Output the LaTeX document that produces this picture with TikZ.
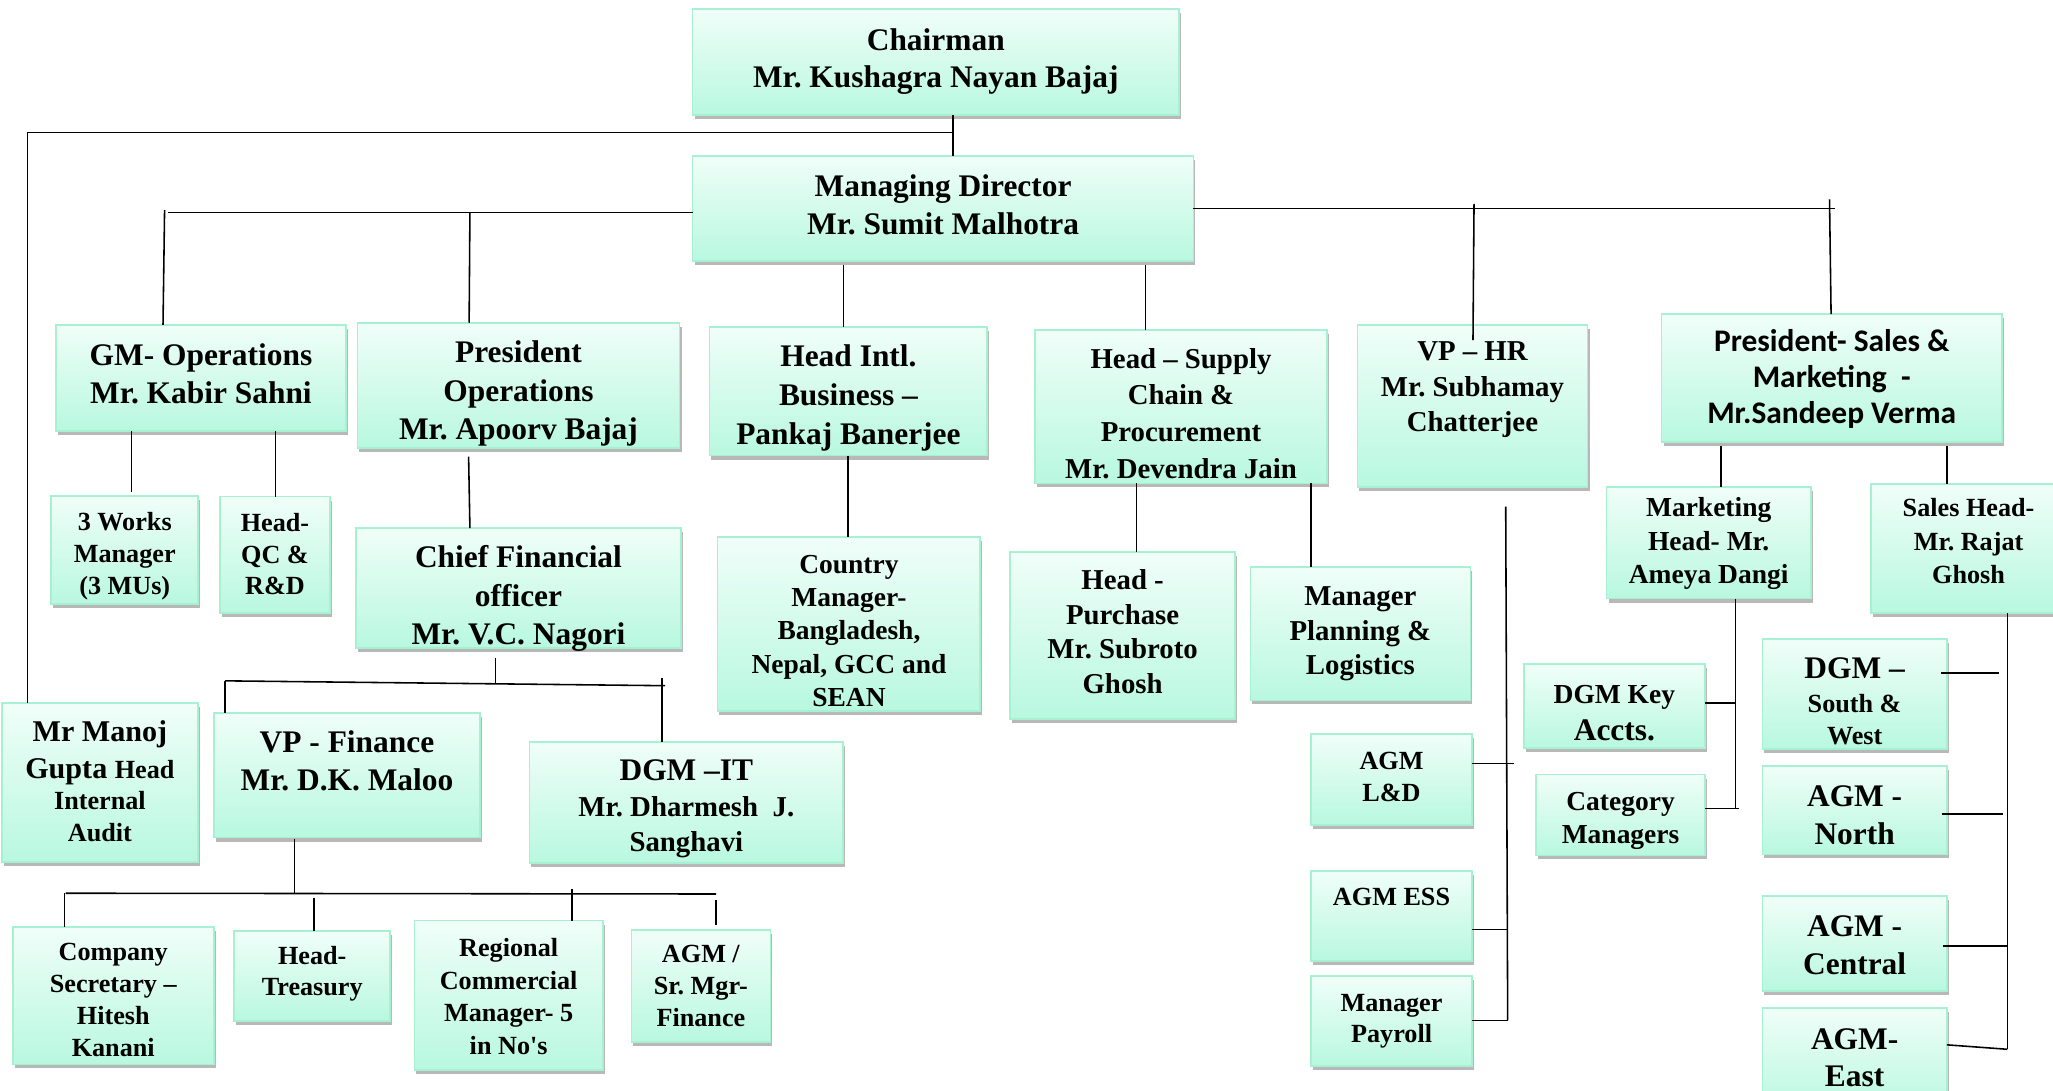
\documentclass[tikz,border=0pt]{standalone}
\usepackage{fontspec}
\setmainfont[Ligatures={TeX,NoCommon}]{Liberation Serif}
\newfontfamily\calfont{Carlito}
\usetikzlibrary{shadows}
\definecolor{boxtop}{HTML}{F0FEF9}
\definecolor{boxbot}{HTML}{B8F8E0}
\definecolor{boxline}{HTML}{A8F0D2}
\newcommand\fs[2]{\fontsize{#1}{#2}\selectfont}
\tikzset{
  orgbox/.style={draw=boxline, line width=1.3pt, top color=boxtop, bottom color=boxbot,
    inner sep=0pt, outer sep=0pt,
    drop shadow={shadow xshift=1.5pt, shadow yshift=-3pt, fill=black, opacity=0.28}},
  orgtext/.style={align=flush center, inner sep=0pt},
  conn/.style={line width=1.2pt, black}
}
% box: name, x1, y1, x2, y2
\newcommand\OB[5]{\node[orgbox, anchor=north west, minimum width={#4pt-#2pt}, minimum height={#5pt-#3pt}] (#1) at (#2,#3) {};}
% text: name, cx, first baseline, width, font, content
\newcommand\OT[6]{\node[orgtext, text width={#4pt}, anchor=base, font={\bfseries\frenchspacing#5}] (#1-t) at (#2,#3) {#6};}
\begin{document}
\begin{tikzpicture}[x=1pt, y=-1pt]
\fill[white] (0,0) rectangle (1568,832.5);
\useasboundingbox (0,0) rectangle (1568,832.5);

% ---------- boxes ----------
\OB{chair}{529}{7}{900.5}{88}
\OB{md}{529}{119}{911.5}{199.3}
\OB{gmops}{42.7}{248.2}{264.2}{329}
\OB{presops}{273}{246.5}{519}{342.4}
\OB{intl}{541.8}{250}{754}{348}
\OB{supply}{790.6}{252}{1013.5}{369.2}
\OB{vphr}{1036.7}{248.2}{1212.5}{371.7}
\OB{pressales}{1269}{240}{1529}{337.8}
\OB{works}{39.2}{378.6}{151.3}{461.3}
\OB{qc}{168}{379.3}{252}{468.4}
\OB{cfo}{271.8}{403.4}{520.2}{494.8}
\OB{country}{548}{410}{748.7}{542.8}
\OB{purchase}{771.5}{421.5}{943.3}{549.2}
\OB{planning}{955}{433}{1123}{535}
\OB{mkthead}{1227}{371.7}{1383}{457.2}
\OB{saleshead}{1429}{369.9}{1578}{468.1}
\OB{manoj}{1.5}{537.1}{151}{658.3}
\OB{vpfin}{163.2}{544.3}{366.8}{639.7}
\OB{dgmit}{404.3}{566.6}{644}{659.2}
\OB{dgmkey}{1163.8}{506.9}{1302.4}{571.5}
\OB{category}{1173}{591.6}{1302.4}{653.4}
\OB{south}{1346}{488.2}{1487}{572}
\OB{north}{1346}{585}{1487}{652.6}
\OB{agmld}{1001.3}{560.6}{1124.3}{630}
\OB{agmess}{1001.3}{665}{1124.3}{734}
\OB{payroll}{1001.3}{745.5}{1124.3}{814.3}
\OB{central}{1346}{684.5}{1487}{756.9}
\OB{east}{1346}{769.8}{1487}{850}
\OB{compsec}{9.8}{708}{163.2}{812.9}
\OB{treasury}{178.8}{711}{298.1}{779.9}
\OB{regional}{316.6}{703.1}{460.3}{817.2}
\OB{agmsr}{482.2}{710.4}{588.4}{795.7}

% ---------- texts ----------
\OT{chair}{714.7}{38.7}{380}{\fs{24}{28.3}}{Chairman\\Mr. Kushagra Nayan Bajaj}
\OT{md}{720.3}{149.7}{380}{\fs{24}{29.3}}{Managing Director\\Mr. Sumit Malhotra}
\OT{gmops}{153.5}{278.8}{240}{\fs{24}{29.2}}{GM- Operations\\Mr. Kabir Sahni}
\OT{presops}{396}{277}{260}{\fs{24}{29.3}}{President\\Operations\\Mr. Apoorv Bajaj}
\OT{intl}{648}{280}{240}{\fs{24}{29.7}}{Head Intl.\\Business –\\Pankaj Banerjee}
\OT{supply}{902}{281.3}{240}{\fs{22}{28}}{Head – Supply\\Chain \&\\Procurement\\Mr. Devendra Jain}
\OT{vphr}{1124.6}{275.7}{190}{\fs{22}{27}}{VP – HR\\Mr. Subhamay\\Chatterjee}
\OT{pressales}{1399}{268.6}{260}{\calfont\fs{24}{27.3}}{President- Sales \&\\Marketing \ -\\Mr.Sandeep Verma}
\OT{works}{95.3}{405.3}{120}{\fs{20}{24.2}}{3 Works\\Manager\\(3 MUs)}
\OT{qc}{210}{406}{100}{\fs{20}{24.2}}{Head-\\QC \&\\R\&D}
\OT{cfo}{396}{433.6}{250}{\fs{24}{29.5}}{Chief Financial\\officer\\Mr. V.C. Nagori}
\OT{country}{648.4}{438}{200}{\fs{21}{25.4}}{Country\\Manager-\\Bangladesh,\\Nepal, GCC and\\SEAN}
\OT{purchase}{857.4}{450}{180}{\fs{22}{26.6}}{Head -\\Purchase\\Mr. Subroto\\Ghosh}
\OT{planning}{1039}{462.3}{170}{\fs{22}{26.6}}{Manager\\Planning \&\\Logistics}
\OT{mkthead}{1305}{394.6}{160}{\fs{21}{25.5}}{Marketing\\Head- Mr.\\Ameya Dangi}
\OT{saleshead}{1503.5}{394.6}{150}{\fs{20}{25.5}}{Sales Head-\\Mr. Rajat\\Ghosh}
\OT{manoj}{76.3}{566.5}{150}{\fs{20}{24}}{\fs{23}{24}Mr Manoj\\[4pt]Gupta \fs{20}{24}Head\\Internal\\Audit}
\OT{vpfin}{265}{575}{210}{\fs{24}{28.7}}{VP - Finance\\Mr. D.K. Maloo}
\OT{dgmit}{524.2}{596}{240}{\fs{22}{27.3}}{\fs{24}{27.3}DGM –IT\\\fs{22}{27.3}Mr. Dharmesh\ \ J.\\Sanghavi}
\OT{dgmkey}{1233}{537}{140}{\fs{24}{28.8}}{\fs{21}{28.8}DGM Key\\\fs{24}{28.8}Accts.}
\OT{category}{1237.7}{619}{130}{\fs{21}{25}}{Category\\Managers}
\OT{south}{1416.5}{518.4}{140}{\fs{20}{24.4}}{\fs{24}{24.4}DGM –\\[1.4pt]\fs{20}{24.4}South \&\\West}
\OT{north}{1416.5}{616}{140}{\fs{24}{28.8}}{AGM -\\North}
\OT{agmld}{1062.8}{588}{120}{\fs{20}{24.3}}{AGM\\L\&D}
\OT{agmess}{1062.8}{691.7}{120}{\fs{20}{24}}{AGM ESS}
\OT{payroll}{1062.8}{772.7}{120}{\fs{20}{23.5}}{Manager\\Payroll}
\OT{central}{1416.5}{715.2}{140}{\fs{24}{28.7}}{AGM -\\Central}
\OT{east}{1416.5}{801.4}{140}{\fs{24}{28.6}}{AGM-\\East}
\OT{compsec}{86.5}{733.9}{150}{\fs{20}{24.4}}{Company\\Secretary –\\Hitesh\\Kanani}
\OT{treasury}{238.5}{736.7}{120}{\fs{20}{23.9}}{Head-\\Treasury}
\OT{regional}{388.5}{730.5}{145}{\fs{20}{25}}{Regional\\Commercial\\Manager- 5\\in No\textquotesingle s}
\OT{agmsr}{535.3}{735.3}{110}{\fs{20}{24.4}}{AGM /\\Sr. Mgr-\\Finance}

% ---------- connectors ----------
\draw[conn] (727.7,0 |- chair.south) -- (727.7,0 |- md.north);
\draw[conn] (727.7,101.1) -- (21,101.1) -- (21,0 |- manoj.north);
\draw[conn] (md.west |- 0,162.4) -- (128.6,162.4);
\draw[conn] (125.7,160.4) -- (124.5,0 |- gmops.north);
\draw[conn] (358.9,162.4) -- (358.3,0 |- presops.north);
\draw[conn] (644.1,202.4) -- (644.1,0 |- intl.north);
\draw[conn] (875,202.4) -- (875,0 |- supply.north);
\draw[conn] (md.east |- 0,159.1) -- (1401.4,159.1);
\draw[conn] (1125.8,155.8) -- (1125,259.7);
\draw[conn] (1397.3,152.2) -- (1398.5,0 |- pressales.north);
\draw[conn] (100.5,0 |- gmops.south) -- (100.5,376);
\draw[conn] (210.4,0 |- gmops.south) -- (210.4,0 |- qc.north);
\draw[conn] (357.9,348.8) -- (358.9,0 |- cfo.north);
\draw[conn] (647.8,0 |- intl.south) -- (647.8,0 |- country.north);
\draw[conn] (867.9,0 |- supply.south) -- (867.9,0 |- purchase.north);
\draw[conn] (1001.3,0 |- supply.south) -- (1001.3,0 |- planning.north);
\draw[conn] (1150,387) -- (1151.5,779.3);
\draw[conn] (agmld.east |- 0,583) -- (1156,583);
\draw[conn] (agmess.east |- 0,710) -- (1151,710);
\draw[conn] (payroll.east |- 0,779.3) -- (1151.5,779.3);
\draw[conn] (1314.2,341) -- (1314.2,0 |- mkthead.north);
\draw[conn] (1487.1,341) -- (1487.1,0 |- saleshead.north);
\draw[conn] (1325.4,0 |- mkthead.south) -- (1325.4,617.5);
\draw[conn] (dgmkey.east |- 0,537.1) -- (1325.4,537.1);
\draw[conn] (category.east |- 0,617.5) -- (1328,617.5);
\draw[conn] (1533.2,0 |- saleshead.south) -- (1533.2,801.4);
\draw[conn] (1482.6,513.8) -- (1527,513.8);
\draw[conn] (1483,621.8) -- (1530,621.8);
\draw[conn] (1484,722.4) -- (1533.2,722.4);
\draw[conn] (east.east |- 0,798) -- (1533.2,801.4);
\draw[conn] (378.5,502.6) -- (378.5,521.8);
\draw[conn] (172,520) -- (508,523.7);
\draw[conn] (172,520) -- (172,0 |- vpfin.north);
\draw[conn] (505.6,518) -- (505.6,0 |- dgmit.north);
\draw[conn] (225,640.5) -- (225,682.1);
\draw[conn] (50.2,682.2) -- (547,682.8);
\draw[conn] (49.2,682.2) -- (49.2,0 |- compsec.north);
\draw[conn] (239.7,685.6) -- (239.7,0 |- treasury.north);
\draw[conn] (437,678.7) -- (437,0 |- regional.north);
\draw[conn] (547,687.3) -- (547,706.6);
\end{tikzpicture}
\end{document}
